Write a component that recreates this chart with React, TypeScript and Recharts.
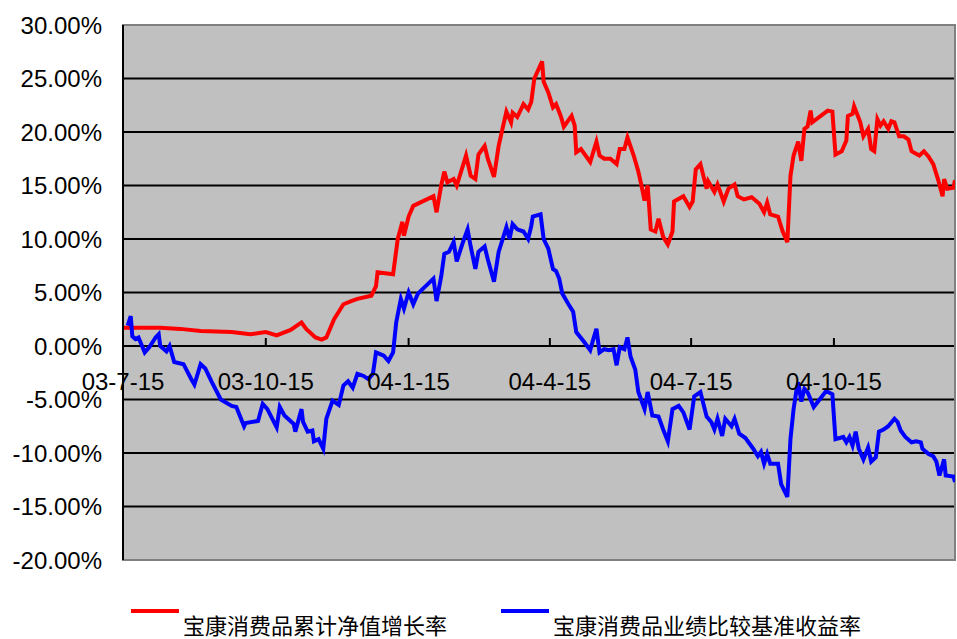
import { LineChart, Line, XAxis, YAxis, CartesianGrid, ReferenceArea } from 'recharts'

// x values are calendar days counted from 2003-07-15
const navDays = [
  0, 24, 37, 50, 70, 82, 92, 99, 108, 115, 118, 124, 128, 131, 136, 142, 147, 151, 160, 163,
  164, 174, 177, 180, 181, 184, 187, 200, 202, 205, 207, 209, 213, 215, 221, 224, 227, 229, 233, 235,
  239, 242, 247, 250, 251, 254, 258, 261, 263, 265, 270, 271, 274, 277, 279, 282, 284, 289, 291, 292,
  295, 301, 305, 307, 310, 314, 318, 320, 323, 325, 329, 332, 334, 336, 338, 340, 343, 345, 348, 351,
  354, 355, 361, 365, 367, 369, 372, 376, 377, 381, 383, 387, 390, 394, 396, 400, 405, 410, 413, 415,
  417, 422, 425, 428, 430, 432, 435, 437, 439, 441, 443, 444, 454, 457, 459, 463, 466, 467, 470, 471,
  475, 477, 480, 482, 484, 486, 488, 490, 493, 495, 497, 500, 503, 506, 508, 513, 516, 519, 522, 525,
  528, 529, 531, 535, 536,
]
const navValues = [
  1.7, 1.7, 1.6, 1.4, 1.3, 1.1, 1.3, 1.0, 1.5, 2.2, 1.6, 0.8, 0.6, 0.8, 2.5, 3.9, 4.2, 4.4, 4.7, 5.6,
  6.9, 6.7, 10.0, 11.6, 10.3, 12.1, 13.1, 14.0, 12.5, 15.0, 16.3, 15.3, 15.6, 15.0, 17.8, 15.9, 15.6, 17.9, 18.7, 17.5,
  15.8, 18.7, 21.9, 20.9, 21.8, 21.4, 22.6, 22.1, 22.8, 25.0, 26.6, 24.7, 23.7, 22.3, 22.6, 21.5, 20.5, 21.5, 20.6, 18.1,
  18.4, 17.2, 19.1, 17.8, 17.5, 17.5, 17.0, 18.4, 18.4, 19.5, 17.8, 16.3, 15.0, 13.6, 15.0, 10.9, 10.7, 11.9, 10.2, 9.5,
  10.7, 13.5, 14.0, 13.0, 13.5, 16.5, 17.0, 14.7, 15.4, 14.4, 15.1, 13.5, 14.7, 15.1, 14.0, 13.7, 13.9, 13.3, 12.5, 13.4,
  12.3, 12.1, 10.7, 9.7, 15.9, 17.8, 19.1, 17.3, 20.3, 20.5, 22.0, 20.9, 22.0, 21.9, 17.9, 18.2, 19.2, 21.5, 21.7, 22.4,
  20.9, 19.6, 20.3, 18.4, 18.2, 21.2, 20.6, 21.0, 20.3, 21.0, 20.9, 19.6, 19.6, 19.3, 18.2, 17.8, 18.2, 17.7, 17.0, 15.6,
  14.0, 15.6, 14.7, 14.8, 15.5,
]

const benchDays = [
  3, 5, 6, 8, 10, 14, 17, 21, 23, 24, 28, 30, 33, 39, 44, 46, 50, 53, 57, 63,
  70, 73, 78, 79, 87, 90, 93, 99, 101, 104, 110, 111, 115, 116, 119, 122, 123, 126, 129, 131,
  135, 139, 142, 145, 148, 151, 155, 158, 161, 163, 168, 171, 174, 176, 179, 181, 184, 187, 190, 200,
  202, 205, 207, 210, 213, 215, 219, 222, 224, 227, 229, 233, 235, 239, 242, 247, 249, 251, 254, 258,
  261, 263, 264, 269, 271, 274, 277, 279, 281, 283, 287, 290, 292, 297, 301, 303, 305, 307, 310, 313,
  316, 318, 320, 323, 325, 327, 330, 332, 336, 338, 341, 345, 348, 351, 354, 358, 361, 365, 368, 372,
  376, 379, 381, 383, 386, 388, 392, 394, 397, 401, 406, 409, 411, 413, 415, 417, 422, 424, 428, 430,
  432, 434, 435, 437, 439, 441, 445, 453, 457, 459, 464, 466, 468, 470, 472, 474, 477, 480, 482, 485,
  487, 490, 493, 497, 499, 501, 504, 508, 511, 514, 515, 519, 522, 524, 526, 529, 530, 535, 536,
]
const benchValues = [
  1.9, 2.8, 0.9, 0.65, 0.8, -0.6, -0.1, 0.8, 1.1, 0.0, -0.5, 0.0, -1.5, -1.7, -3.1, -3.6, -1.7, -2.1, -3.3, -5.0,
  -5.6, -5.7, -7.5, -7.2, -7.0, -5.4, -5.9, -7.6, -5.7, -6.5, -7.3, -8.0, -5.9, -7.1, -8.0, -7.9, -8.9, -8.7, -9.6, -6.8,
  -5.1, -5.5, -3.7, -3.3, -3.9, -2.6, -2.8, -3.1, -2.6, -0.6, -0.9, -1.4, -0.6, 2.2, 4.4, 3.5, 5.0, 3.9, 4.9, 6.3,
  4.2, 6.5, 8.6, 8.8, 9.7, 7.9, 9.7, 10.9, 9.3, 7.2, 8.8, 9.3, 8.1, 6.0, 8.8, 11.1, 10.0, 11.4, 10.9, 10.7,
  10.0, 11.2, 12.1, 12.3, 10.0, 9.1, 7.2, 7.0, 6.3, 4.9, 3.9, 3.2, 1.3, 0.4, -0.4, 0.65, 1.6, -0.6, -0.3, -0.4,
  -0.3, -1.8, -0.1, -0.3, 0.8, -1.0, -2.2, -4.3, -5.9, -4.3, -6.5, -6.6, -7.8, -8.9, -5.9, -5.6, -6.2, -7.8, -4.7, -4.3,
  -6.6, -7.1, -7.8, -6.8, -8.4, -6.8, -7.5, -6.8, -8.2, -8.6, -9.6, -10.3, -9.9, -11.0, -10.1, -11.0, -11.0, -12.9, -14.1, -8.7,
  -5.9, -4.0, -3.4, -5.2, -4.0, -4.3, -5.7, -4.2, -4.5, -8.7, -8.5, -9.0, -8.5, -9.3, -8.0, -9.6, -10.6, -9.5, -10.8, -10.4,
  -8.0, -7.8, -7.5, -6.8, -7.1, -7.9, -8.5, -9.0, -8.9, -9.0, -9.6, -10.1, -10.3, -10.8, -12.1, -10.6, -12.1, -12.2, -12.7,
]

const xTicks = [0, 92, 184, 275, 366, 458]
const xTickLabels = ['03-7-15', '03-10-15', '04-1-15', '04-4-15', '04-7-15', '04-10-15']
const yTicks = [-20, -15, -10, -5, 0, 5, 10, 15, 20, 25, 30]
const seriesNames = ['宝康消费品累计净值增长率', '宝康消费品业绩比较基准收益率']

const navData = navDays.map((d, i) => ({ day: d, v: navValues[i] }))
const benchData = benchDays.map((d, i) => ({ day: d, v: benchValues[i] }))

const W = 957
const H = 639
const TOP = 25
const PLOT_H = 535
const Y_MIN = -20
const Y_MAX = 30
const X_MAX = 536
const FONT = '"Liberation Sans", Arial, sans-serif'

// category labels sit on the 0% line, not at the bottom of the plot
const zeroY = TOP + (PLOT_H * (Y_MAX - 0)) / (Y_MAX - Y_MIN)

function XTick({ x, payload }: any) {
  const idx = xTicks.indexOf(payload.value)
  return (
    <g>
      {idx > 0 && <line x1={x} x2={x} y1={zeroY} y2={zeroY - 8} stroke="#000" strokeWidth={2} />}
      <text x={x} y={zeroY + 44} textAnchor="middle" fontSize={24} fontFamily={FONT} fill="#000">
        {xTickLabels[idx]}
      </text>
    </g>
  )
}

export default function App() {
  return (
    <div style={{ position: 'absolute', left: 0, top: 0, width: W, height: H, background: '#fff', overflow: 'hidden' }}>
      <LineChart width={W} height={H} margin={{ top: TOP, right: 2, bottom: 78, left: 8 }}>
        <CartesianGrid vertical={false} stroke="#000" strokeWidth={2} fill="#C0C0C0"
                       horizontalValues={[-15, -10, -5, 0, 5, 10, 15, 20, 25]} />
        <XAxis dataKey="day" type="number" domain={[0, X_MAX]} ticks={xTicks} height={1}
               axisLine={false} tickLine={false} tick={<XTick />} allowDataOverflow interval={0} />
        <YAxis type="number" domain={[Y_MIN, Y_MAX]} ticks={yTicks} width={115} interval={0}
               axisLine={{ stroke: '#000', strokeWidth: 2 }} tickLine={false} tickSize={8} tickMargin={13}
               tick={{ fontSize: 24, fontFamily: FONT, fill: '#000' }}
               tickFormatter={(v: number) => v.toFixed(2) + '%'} />
        <ReferenceArea x1={0} x2={X_MAX} y1={Y_MIN} y2={Y_MAX} fill="none" stroke="#808080" strokeWidth={2} ifOverflow="visible" />
        <Line data={navData} dataKey="v" type="linear" stroke="#FF0000" strokeWidth={4} dot={false} isAnimationActive={false} />
        <Line data={benchData} dataKey="v" type="linear" stroke="#0000FF" strokeWidth={4} dot={false} isAnimationActive={false} />
      </LineChart>
      <div style={{ position: 'absolute', left: 131, top: 609, width: 48, height: 4, background: '#FF0000' }} />
      <div style={{ position: 'absolute', left: 183, top: 613, fontSize: 22, lineHeight: '22px', whiteSpace: 'nowrap',
                    fontFamily: '"Noto Sans CJK SC", sans-serif', color: '#000' }}>{seriesNames[0]}</div>
      <div style={{ position: 'absolute', left: 501, top: 609, width: 48, height: 4, background: '#0000FF' }} />
      <div style={{ position: 'absolute', left: 553, top: 613, fontSize: 22, lineHeight: '22px', whiteSpace: 'nowrap',
                    fontFamily: '"Noto Sans CJK SC", sans-serif', color: '#000' }}>{seriesNames[1]}</div>
    </div>
  )
}
